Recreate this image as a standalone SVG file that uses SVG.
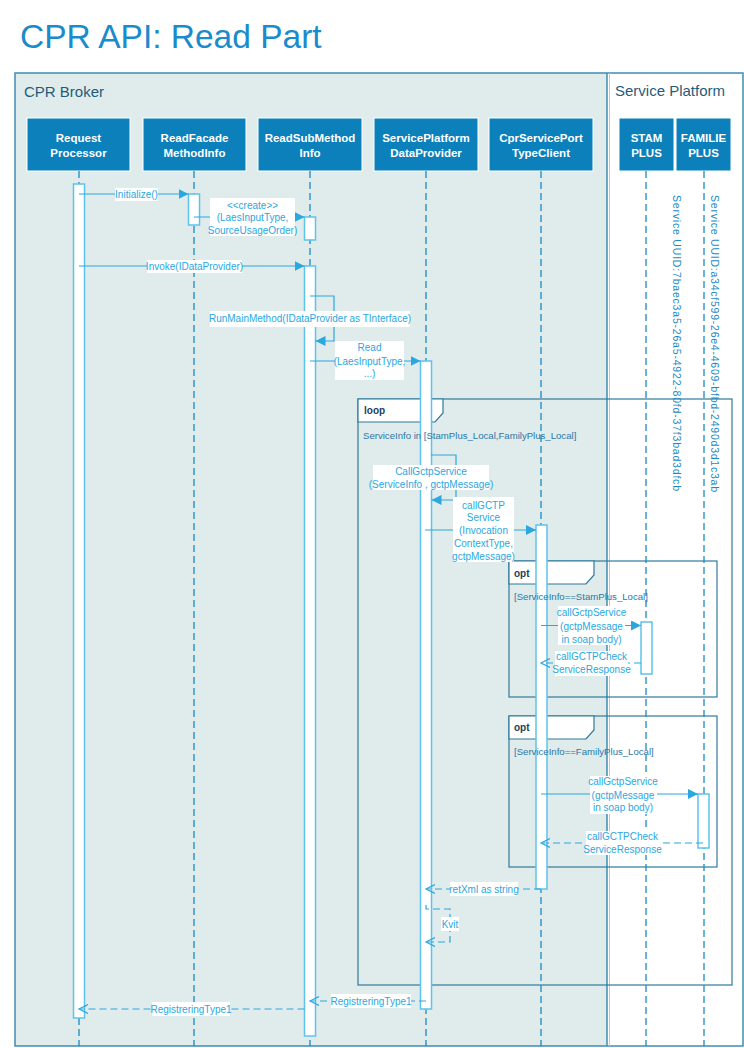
<svg xmlns="http://www.w3.org/2000/svg" width="744" height="1048" viewBox="0 0 744 1048">
<defs>
<style>
text{font-family:"Liberation Sans",Arial,sans-serif}
.title{font-size:33.5px;fill:#1a8bcb}
.panel{font-size:15px;fill:#1f5c7a}
.hb{fill:#0b80ba;stroke:#ffffff;stroke-width:1}
.ht{font-size:11.5px;font-weight:bold;fill:#ffffff;text-anchor:middle}
.life{stroke:#1a8ac4;stroke-width:1.3;stroke-dasharray:7,4;fill:none}
.act{fill:#ffffff;stroke:#5ec3ec;stroke-width:1.5}
.frame{fill:none;stroke:#2f7a9a;stroke-width:1.2}
.tab{fill:#ffffff;stroke:#2f7a9a;stroke-width:1.2}
.op{font-size:10px;font-weight:bold;fill:#1d3f5b}
.guard{font-size:9.6px;fill:#2b78a8}
.msg{stroke:#2aa7df;stroke-width:1.2;fill:none}
.ret{stroke:#2aa7df;stroke-width:1.2;fill:none;stroke-dasharray:7,4}
.lb{fill:#ffffff}
.lt{font-size:10px;fill:#2aa7df;text-anchor:middle}
.uuid{font-size:10.5px;fill:#1a8ac4}
</style>
<marker id="ah" markerUnits="userSpaceOnUse" markerWidth="11" markerHeight="11" refX="10" refY="5" orient="auto">
<path d="M0,0 L10,5 L0,10 z" fill="#2aa7df"/>
</marker>
<marker id="oh" markerUnits="userSpaceOnUse" markerWidth="11" markerHeight="11" refX="9" refY="5" orient="auto">
<path d="M0,0.5 L9,5 L0,9.5" fill="none" stroke="#2aa7df" stroke-width="1.2"/>
</marker>
</defs>
<rect x="0" y="0" width="744" height="1048" fill="#ffffff"/>
<text class="title" x="20" y="48">CPR API: Read Part</text>

<g id="panels">
<rect x="15" y="73" width="592" height="973" fill="#e0ebeb"/>
<rect x="607" y="73" width="136" height="973" fill="#ffffff"/>
<rect x="15" y="73" width="728" height="973" fill="none" stroke="#3f8db0" stroke-width="1.5"/>
<line x1="607" y1="73" x2="607" y2="1046" stroke="#3f8db0" stroke-width="1.5"/>
<line x1="609.5" y1="73" x2="609.5" y2="1046" stroke="#a9cfe0" stroke-width="1"/>
<text class="panel" x="24" y="97">CPR Broker</text>
<text class="panel" x="615" y="96">Service Platform</text>
</g>

<g id="fragments">
<g id="loop">
<rect class="frame" x="358" y="399" width="374" height="586"/>
<path class="tab" d="M358,399 H443 V413 L435,422 H358 Z"/>
</g>
<g id="opt1">
<rect class="frame" x="509" y="561" width="208" height="136"/>
<path class="tab" d="M509,561 H594 V575 L586,584 H509 Z"/>
</g>
<g id="opt2">
<rect class="frame" x="509" y="716" width="208" height="151"/>
<path class="tab" d="M509,716 H594 V730 L586,739 H509 Z"/>
</g>
</g>

<g id="RequestProcessor">
<rect class="hb" x="27" y="118" width="103" height="53"/>
<text class="ht" x="78.5" y="141.5">Request</text>
<text class="ht" x="78.5" y="157">Processor</text>
<line class="life" x1="79" y1="171" x2="79" y2="1046"/>
<rect class="act" x="73.5" y="184" width="11" height="834"/>
</g>
<g id="ReadFacadeMethodInfo">
<rect class="hb" x="143" y="118" width="103" height="53"/>
<text class="ht" x="194.5" y="141.5">ReadFacade</text>
<text class="ht" x="194.5" y="157">MethodInfo</text>
<line class="life" x1="194" y1="171" x2="194" y2="1046"/>
<rect class="act" x="188.5" y="194" width="11" height="31"/>
</g>
<g id="ReadSubMethodInfo">
<rect class="hb" x="258" y="118" width="104" height="53"/>
<text class="ht" x="310" y="141.5">ReadSubMethod</text>
<text class="ht" x="310" y="157">Info</text>
<line class="life" x1="310" y1="171" x2="310" y2="1046"/>
<rect class="act" x="304.5" y="217" width="11" height="23"/>
<rect class="act" x="304.5" y="266" width="11" height="770"/>
</g>
<g id="ServicePlatformDataProvider">
<rect class="hb" x="374" y="118" width="104" height="53"/>
<text class="ht" x="426" y="141.5">ServicePlatform</text>
<text class="ht" x="426" y="157">DataProvider</text>
<line class="life" x1="426" y1="171" x2="426" y2="1046"/>
<rect class="act" x="420.5" y="361" width="11" height="648"/>
</g>
<g id="CprServicePortTypeClient">
<rect class="hb" x="489" y="118" width="104" height="53"/>
<text class="ht" x="541" y="141.5">CprServicePort</text>
<text class="ht" x="541" y="157">TypeClient</text>
<line class="life" x1="541" y1="171" x2="541" y2="1046"/>
<rect class="act" x="536" y="525" width="11" height="364"/>
</g>
<g id="StamPlus">
<rect class="hb" x="619" y="118" width="55" height="53"/>
<text class="ht" x="646.5" y="141.5">STAM</text>
<text class="ht" x="646.5" y="157">PLUS</text>
<line class="life" x1="646" y1="171" x2="646" y2="1046"/>
<rect class="act" x="641" y="622" width="11" height="52"/>
<text class="uuid" transform="translate(673,195) rotate(90)" textLength="296" lengthAdjust="spacing">Service UUID:7baec3a5-26a5-4922-80fd-37f3bad3dfcb</text>
</g>
<g id="FamiliePlus">
<rect class="hb" x="676" y="118" width="55" height="53"/>
<text class="ht" x="703.5" y="141.5">FAMILIE</text>
<text class="ht" x="703.5" y="157">PLUS</text>
<line class="life" x1="704" y1="171" x2="704" y2="1046"/>
<rect class="act" x="698" y="794" width="11" height="54"/>
<text class="uuid" transform="translate(711,195) rotate(90)" textLength="297" lengthAdjust="spacing">Service UUID:a34cf599-26e4-4609-bfbd-2490d3d1c3ab</text>
</g>

<g id="fragment-labels">
<text class="op" x="364" y="414">loop</text>
<text class="guard" x="363" y="438.5">ServiceInfo in [StamPlus_Local,FamilyPlus_Local]</text>
<text class="op" x="514" y="577">opt</text>
<text class="guard" x="514" y="599.5">[ServiceInfo==StamPlus_Local]</text>
<text class="op" x="514" y="731">opt</text>
<text class="guard" x="514" y="755">[ServiceInfo==FamilyPlus_Local]</text>
</g>

<g id="connectors">
<line class="msg" x1="79" y1="194" x2="188.5" y2="194" marker-end="url(#ah)"/>
<rect class="lb" x="115" y="188" width="43" height="13"/>
<text class="lt" x="136.5" y="197.5">Initialize()</text>

<line class="msg" x1="194" y1="217" x2="304.5" y2="217" marker-end="url(#ah)"/>
<rect class="lb" x="210" y="198" width="85" height="38"/>
<text class="lt" x="252.5" y="208.5">&lt;&lt;create&gt;&gt;</text>
<text class="lt" x="252.5" y="221">(LaesInputType,</text>
<text class="lt" x="252.5" y="233.5">SourceUsageOrder)</text>

<line class="msg" x1="79" y1="266" x2="304.5" y2="266" marker-end="url(#ah)"/>
<rect class="lb" x="147" y="260" width="95" height="13"/>
<text class="lt" x="194.5" y="269.5">Invoke(IDataProvider)</text>

<polyline class="msg" points="310,296 334,296 334,341 315.5,341" marker-end="url(#ah)"/>
<rect class="lb" x="210" y="311" width="200" height="16"/>
<text class="lt" x="310" y="322">RunMainMethod(IDataProvider as TInterface)</text>

<line class="msg" x1="310" y1="361" x2="420.5" y2="361" marker-end="url(#ah)"/>
<rect class="lb" x="335" y="341" width="69" height="39"/>
<text class="lt" x="369.5" y="351">Read</text>
<text class="lt" x="369.5" y="364.5">(LaesInputType,</text>
<text class="lt" x="369.5" y="377">...)</text>

<polyline class="msg" points="431,455 456,455 456,500 431.5,500" marker-end="url(#ah)"/>
<rect class="lb" x="373" y="465" width="116" height="25"/>
<text class="lt" x="431" y="474.5">CallGctpService</text>
<text class="lt" x="431" y="487.5">(ServiceInfo , gctpMessage)</text>

<line class="msg" x1="425" y1="530" x2="536" y2="530" marker-end="url(#ah)"/>
<rect class="lb" x="453" y="497" width="61" height="65"/>
<text class="lt" x="483.5" y="508.5">callGCTP</text>
<text class="lt" x="483.5" y="521">Service</text>
<text class="lt" x="483.5" y="534">(Invocation</text>
<text class="lt" x="483.5" y="546.5">ContextType,</text>
<text class="lt" x="483.5" y="559.5">gctpMessage)</text>

<line class="msg" x1="541" y1="625.5" x2="641" y2="625.5" marker-end="url(#ah)"/>
<rect class="lb" x="558" y="606" width="67" height="39"/>
<text class="lt" x="591.5" y="616">callGctpService</text>
<text class="lt" x="591.5" y="629.5">(gctpMessage</text>
<text class="lt" x="591.5" y="642.5">in soap body)</text>

<line class="ret" x1="641" y1="663" x2="541" y2="663" marker-end="url(#oh)"/>
<rect class="lb" x="555" y="651" width="73" height="25"/>
<text class="lt" x="591.5" y="660">callGCTPCheck</text>
<text class="lt" x="591.5" y="673">ServiceResponse</text>

<line class="msg" x1="541" y1="794" x2="698" y2="794" marker-end="url(#ah)"/>
<rect class="lb" x="590" y="776" width="67" height="38"/>
<text class="lt" x="623" y="785">callGctpService</text>
<text class="lt" x="623" y="798.5">(gctpMessage</text>
<text class="lt" x="623" y="811">in soap body)</text>

<line class="ret" x1="703" y1="843" x2="541" y2="843" marker-end="url(#oh)"/>
<rect class="lb" x="586" y="831" width="73" height="24"/>
<text class="lt" x="622.5" y="840">callGCTPCheck</text>
<text class="lt" x="622.5" y="853">ServiceResponse</text>

<line class="ret" x1="541" y1="889" x2="426" y2="889" marker-end="url(#oh)"/>
<rect class="lb" x="450" y="882" width="68" height="14"/>
<text class="lt" x="484" y="892.5">retXml as string</text>

<polyline class="ret" points="426,905 426,909 450,909 450,942 426,942" marker-end="url(#oh)"/>
<rect class="lb" x="441" y="917" width="18" height="14"/>
<text class="lt" x="450" y="927.5">Kvit</text>

<line class="ret" x1="426" y1="1001" x2="310" y2="1001" marker-end="url(#oh)"/>
<rect class="lb" x="331" y="994" width="80" height="14"/>
<text class="lt" x="371" y="1004.5">RegistreringType1</text>

<line class="ret" x1="304.5" y1="1009" x2="79" y2="1009" marker-end="url(#oh)"/>
<rect class="lb" x="152" y="1002" width="78" height="14"/>
<text class="lt" x="191" y="1012.5">RegistreringType1</text>
</g>
</svg>
